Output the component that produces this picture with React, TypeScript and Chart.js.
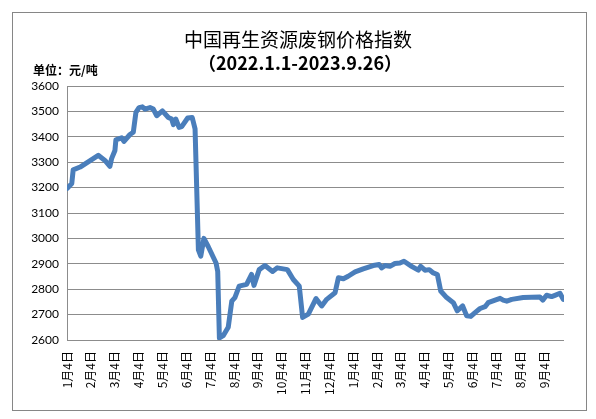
import { useRef, useEffect } from "react";
import { Chart, registerables } from "chart.js";

Chart.register(...registerables);

// x is in months counted from 2022-01-04 (0 = 1月4日 2022)
const tickLabels = [
  "1月4日", "2月4日", "3月4日", "4月4日", "5月4日", "6月4日", "7月4日",
  "8月4日", "9月4日", "10月4日", "11月4日", "12月4日",
  "1月4日", "2月4日", "3月4日", "4月4日", "5月4日", "6月4日", "7月4日",
  "8月4日", "9月4日",
];

const x2022 = [
  0.01, 0.2, 0.26, 0.55, 1.31, 1.59, 1.8, 1.87, 2.01, 2.05, 2.29, 2.39, 2.64,
  2.78, 2.89, 3.02, 3.16, 3.27, 3.48, 3.62, 3.76, 4.0, 4.25, 4.39, 4.46, 4.56,
  4.7, 4.81, 5.06, 5.25, 5.37, 5.51, 5.61, 5.74, 5.92, 6.25, 6.32, 6.39, 6.55,
  6.76, 6.91, 7.04, 7.22, 7.53, 7.74, 7.84, 8.06, 8.3, 8.62, 8.82, 9.24, 9.49,
  9.74, 9.88, 10.12, 10.44, 10.68, 10.89, 11.24, 11.38, 11.59, 11.79,
];
const v2022 = [
  3197, 3216, 3270, 3281, 3327, 3307, 3284, 3314, 3346, 3388, 3396, 3382, 3409,
  3418, 3496, 3515, 3518, 3509, 3515, 3509, 3483, 3502, 3476, 3470, 3448, 3470,
  3437, 3440, 3474, 3476, 3431, 2955, 2930, 3000, 2968, 2903, 2870, 2608, 2617,
  2650, 2753, 2767, 2812, 2819, 2858, 2815, 2877, 2893, 2870, 2884, 2877, 2838,
  2812, 2689, 2702, 2763, 2734, 2760, 2786, 2845, 2841, 2851,
];

const x2023 = [
  12.08, 12.42, 12.84, 13.09, 13.19, 13.33, 13.54, 13.75, 13.96, 14.13, 14.45,
  14.73, 14.83, 15.01, 15.19, 15.36, 15.53, 15.67, 15.92, 16.2, 16.36, 16.59,
  16.76, 16.93, 17.11, 17.32, 17.53, 17.66, 17.95, 18.16, 18.29, 18.44, 18.65,
  19.13, 19.83, 19.95, 20.11, 20.32, 20.46, 20.67, 20.81,
];
const v2023 = [
  2868, 2880, 2893, 2897, 2884, 2893, 2890, 2901, 2903, 2910, 2890, 2875, 2890,
  2875, 2877, 2864, 2858, 2793, 2767, 2747, 2715, 2734, 2695, 2693, 2708, 2724,
  2731, 2747, 2757, 2764, 2757, 2753, 2760, 2767, 2769, 2757, 2776, 2771, 2776,
  2784, 2760,
];

const title = "中国再生资源废钢价格指数";
const subtitle = "（2022.1.1-2023.9.26）";
const unitLabel = "单位：元/吨";

const cjk = "'Noto Sans CJK SC', sans-serif";

const framePlugin = {
  id: "frame",
  beforeDraw(chart: Chart) {
    const { ctx } = chart;
    ctx.save();
    ctx.fillStyle = "#ffffff";
    ctx.fillRect(0, 0, chart.width, chart.height);
    ctx.strokeStyle = "#868686";
    ctx.lineWidth = 1;
    ctx.strokeRect(12.5, 12.5, 574, 398);
    ctx.restore();
  },
  afterDraw(chart: Chart) {
    const { ctx } = chart;
    ctx.save();
    ctx.fillStyle = "#000000";
    ctx.textBaseline = "middle";
    ctx.textAlign = "center";
    ctx.font = `19px ${cjk}`;
    ctx.fillText(title, 298, 40);
    ctx.font = `bold 18px ${cjk}`;
    ctx.fillText(subtitle, 300, 63);
    ctx.textAlign = "left";
    ctx.font = `bold 12px ${cjk}`;
    ctx.fillText(unitLabel, 33, 70);
    ctx.restore();
  },
};

const App = () => {
  const chartRef = useRef<HTMLCanvasElement>(null);
  const chartInstance = useRef<Chart | null>(null);

  useEffect(() => {
    if (!chartRef.current) return;
    if (chartInstance.current) chartInstance.current.destroy();

    const ctx = chartRef.current.getContext("2d");
    if (!ctx) return;

    const points = [
      ...x2022.map((x, i) => ({ x, y: v2022[i] })),
      ...x2023.map((x, i) => ({ x, y: v2023[i] })),
    ];

    chartInstance.current = new Chart(ctx, {
      type: "line",
      data: {
        datasets: [
          {
            label: "废钢价格指数",
            data: points,
            borderColor: "#4a7ebb",
            borderWidth: 5,
            pointRadius: 0,
            tension: 0,
            borderJoinStyle: "round",
            borderCapStyle: "round",
          },
        ],
      },
      options: {
        animation: false,
        responsive: true,
        maintainAspectRatio: false,
        layout: {
          padding: { top: 86, right: 32, bottom: 0, left: 0 },
        },
        plugins: {
          legend: { display: false },
          tooltip: { enabled: false },
        },
        scales: {
          x: {
            type: "linear",
            min: 0,
            max: 20.84,
            afterFit: (scale) => {
              scale.height = 79;
            },
            afterBuildTicks: (scale) => {
              scale.ticks = tickLabels.map((_, i) => ({ value: i }));
            },
            grid: { display: false, drawTicks: false },
            border: { display: false },
            ticks: {
              autoSkip: false,
              maxRotation: 90,
              minRotation: 90,
              padding: 11,
              color: "#000000",
              font: { family: cjk, size: 12 },
              callback: (value) => tickLabels[value as number] ?? "",
            },
          },
          y: {
            min: 2600,
            max: 3600,
            afterFit: (scale) => {
              scale.width = 67;
            },
            grid: { color: "#8c8c8c", drawTicks: false },
            border: { display: true, color: "#8c8c8c" },
            ticks: {
              stepSize: 100,
              padding: 8,
              color: "#000000",
              font: { family: "Lato", size: 12 },
              callback: (value) => String(value),
            },
          },
        },
      },
      plugins: [framePlugin],
    });

    return () => {
      if (chartInstance.current) {
        chartInstance.current.destroy();
        chartInstance.current = null;
      }
    };
  }, []);

  return (
    <div
      style={{
        position: "fixed",
        left: 0,
        top: 0,
        width: 596,
        height: 419,
        background: "#ffffff",
      }}
    >
      <canvas ref={chartRef} aria-label="中国再生资源废钢价格指数折线图" role="img"></canvas>
    </div>
  );
};

export default App;
